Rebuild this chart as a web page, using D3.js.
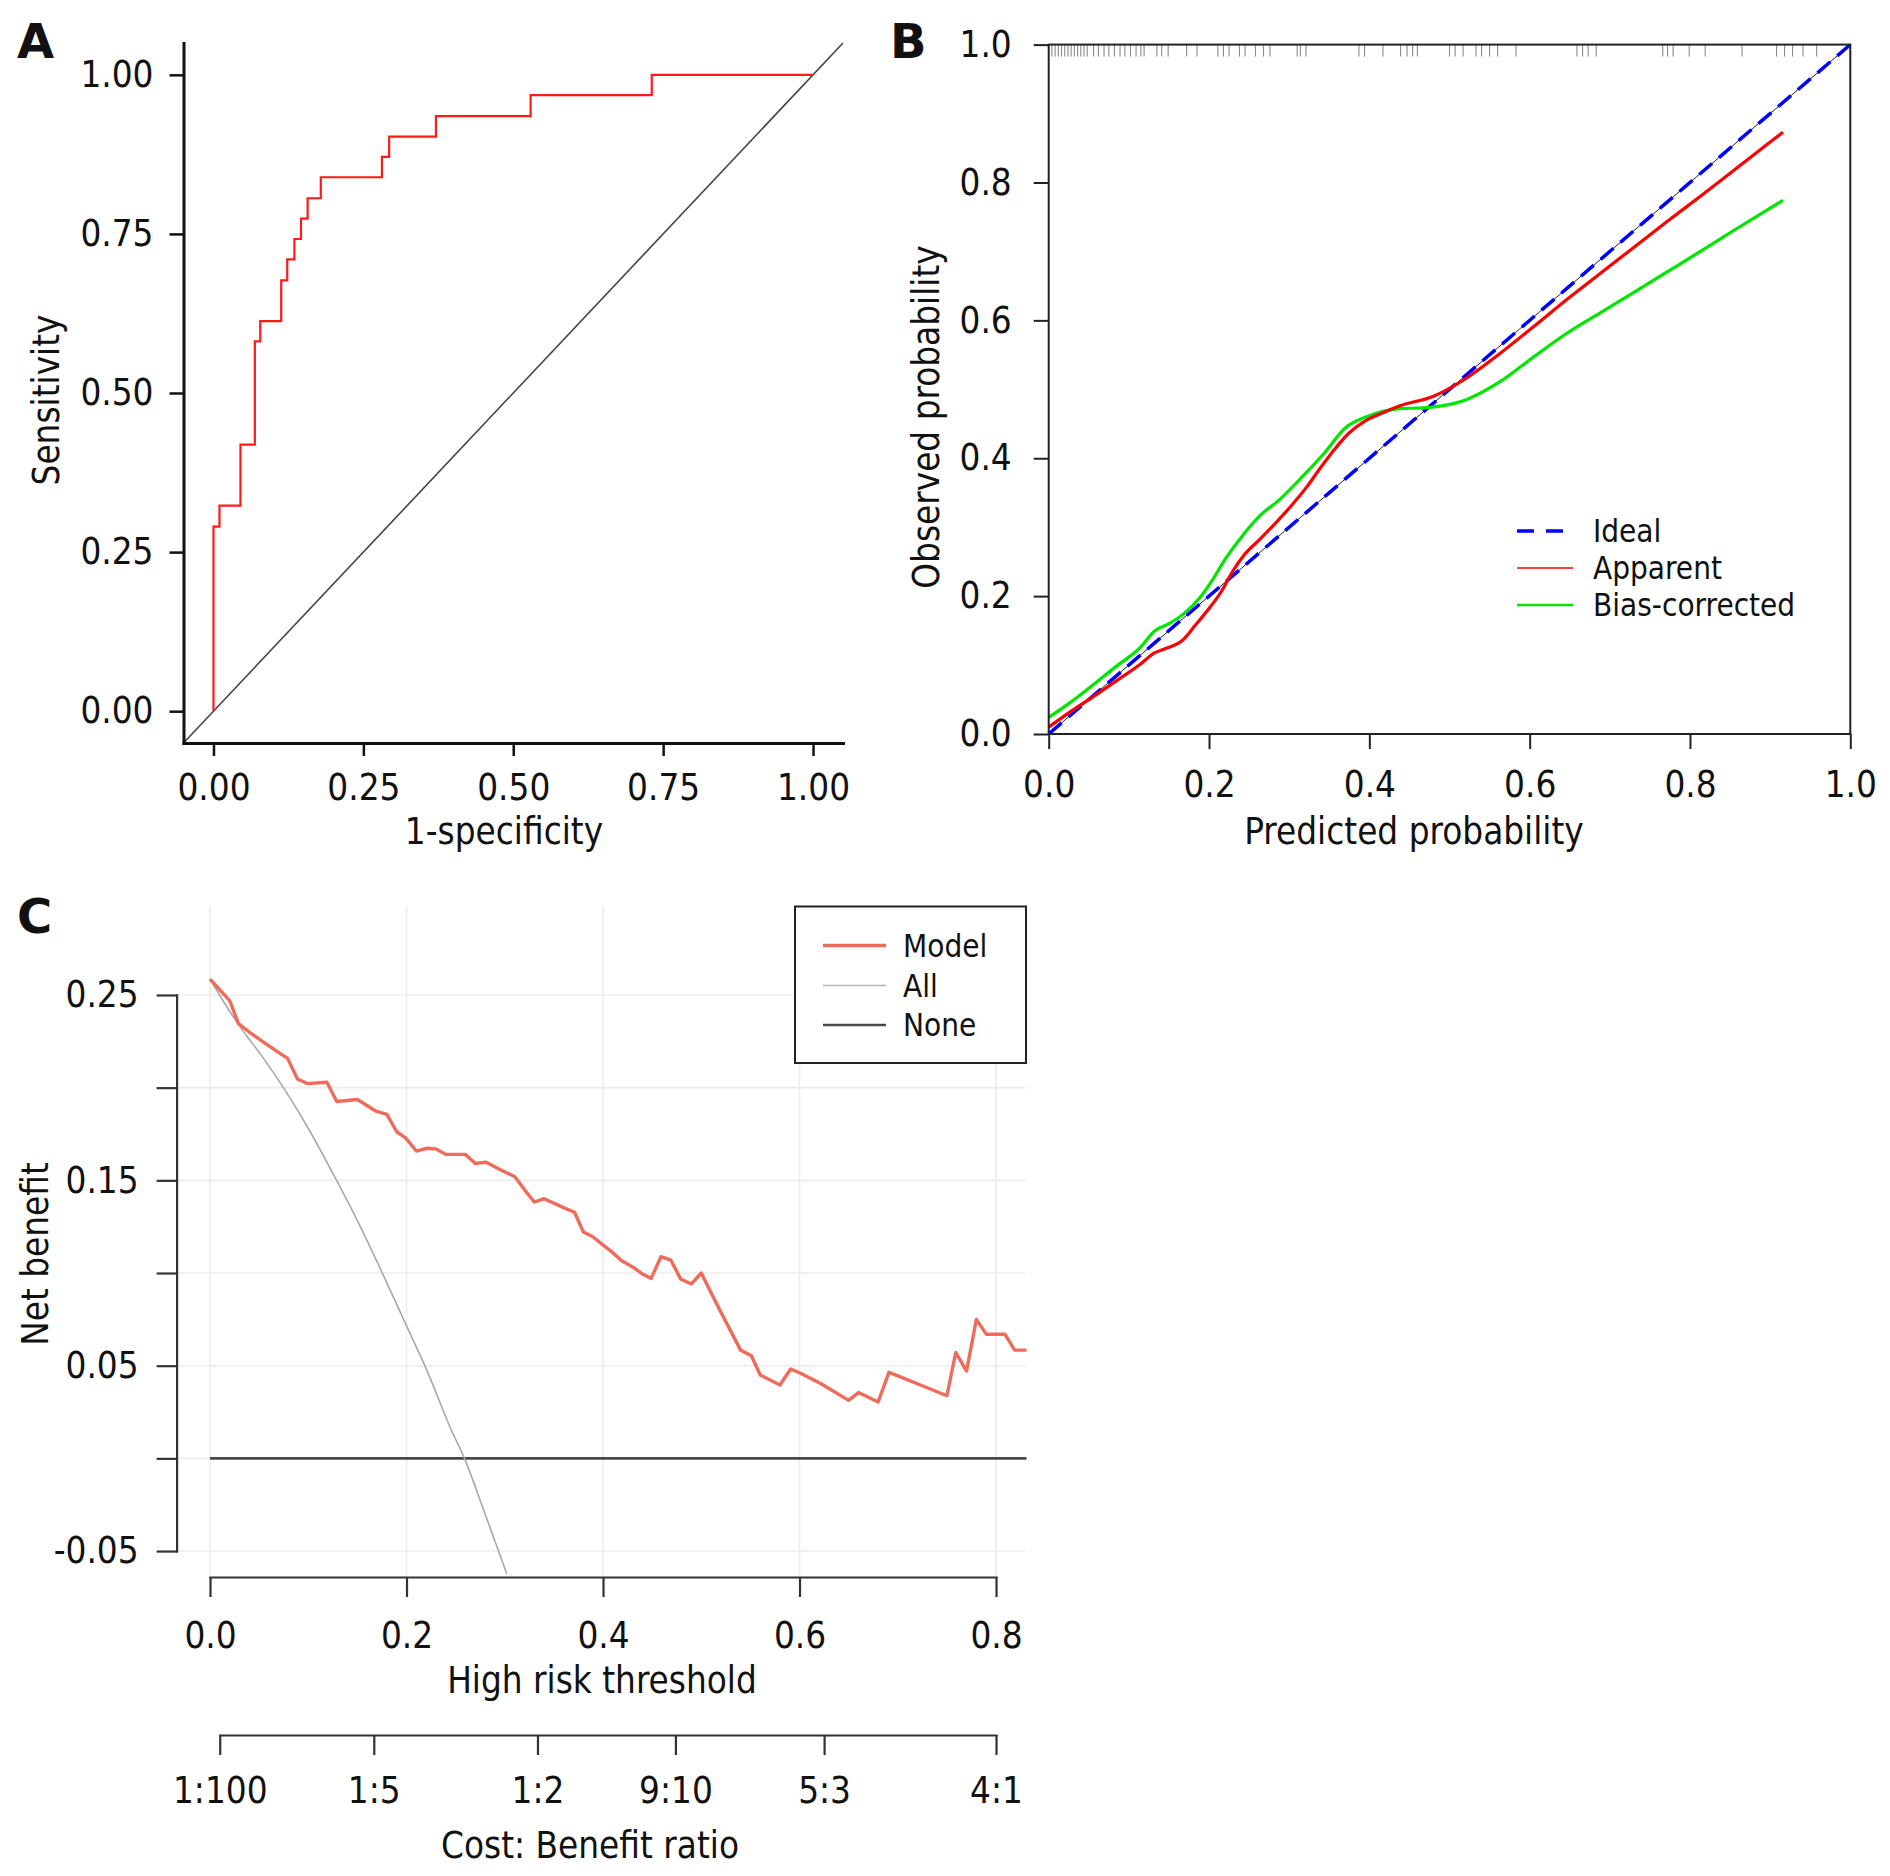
<!DOCTYPE html>
<html><head><meta charset="utf-8">
<script src="https://cdn.jsdelivr.net/npm/d3@7"></script>
<style>
body{margin:0;background:#fff;}
svg text{font-family:"DejaVu Sans Condensed","DejaVu Sans",sans-serif;font-stretch:condensed;fill:#111;}
</style></head>
<body>
<svg id="fig" width="1890" height="1876"></svg>
<script>
// ---------------- DATA ----------------
// Panel A: ROC curve corners (1-specificity, sensitivity)
const rocFpr = [0, 0, 0.010, 0.045, 0.069, 0.078, 0.113, 0.123, 0.135, 0.146, 0.157, 0.179, 0.281, 0.293, 0.371, 0.529, 0.731, 1.0];
const rocTpr = [0, 0.290, 0.323, 0.419, 0.581, 0.613, 0.677, 0.710, 0.742, 0.774, 0.806, 0.839, 0.871, 0.903, 0.935, 0.968, 1.0, 1.0];
const rocTicks = [0, 0.25, 0.5, 0.75, 1.0];

// Panel B: calibration curves
const apparentX = [0, 0.029, 0.058, 0.088, 0.113, 0.131, 0.146, 0.167, 0.183, 0.200, 0.215, 0.229, 0.244, 0.263, 0.283, 0.304, 0.321, 0.342, 0.358, 0.375, 0.396, 0.417, 0.438, 0.480, 0.521, 0.563, 0.605, 0.646, 0.688, 0.729, 0.771, 0.813, 0.854, 0.896, 0.916];
const apparentY = [0.010, 0.034, 0.056, 0.080, 0.100, 0.117, 0.124, 0.136, 0.158, 0.182, 0.206, 0.235, 0.260, 0.282, 0.306, 0.333, 0.357, 0.391, 0.415, 0.437, 0.455, 0.466, 0.476, 0.490, 0.516, 0.552, 0.591, 0.630, 0.668, 0.705, 0.743, 0.780, 0.817, 0.855, 0.873];
const biasX = [0, 0.025, 0.054, 0.083, 0.113, 0.133, 0.150, 0.169, 0.188, 0.204, 0.221, 0.244, 0.263, 0.288, 0.317, 0.342, 0.371, 0.396, 0.417, 0.438, 0.467, 0.490, 0.521, 0.563, 0.605, 0.646, 0.688, 0.729, 0.771, 0.813, 0.854, 0.896, 0.916];
const biasY = [0.024, 0.044, 0.070, 0.097, 0.124, 0.150, 0.160, 0.175, 0.197, 0.223, 0.255, 0.291, 0.316, 0.340, 0.374, 0.405, 0.445, 0.460, 0.468, 0.472, 0.473, 0.476, 0.485, 0.511, 0.547, 0.581, 0.611, 0.640, 0.670, 0.700, 0.730, 0.760, 0.774];
const rugPred = [0.004,0.008,0.012,0.016,0.020,0.024,0.028,0.032,0.036,0.040,0.044,0.048,0.056,0.062,0.069,0.075,0.082,0.089,0.095,0.102,0.109,0.115,0.119,0.135,0.141,0.149,0.172,0.185,0.211,0.218,0.225,0.238,0.245,0.258,0.268,0.276,0.310,0.314,0.321,0.387,0.394,0.417,0.439,0.447,0.454,0.460,0.500,0.507,0.517,0.533,0.540,0.550,0.560,0.583,0.659,0.666,0.673,0.683,0.766,0.772,0.779,0.799,0.819,0.865,0.908,0.918,0.928,0.941,0.958];
const calTicks = [0, 0.2, 0.4, 0.6, 0.8, 1.0];
const calLegend = ["Ideal", "Apparent", "Bias-corrected"];

// Panel C: decision curve
const modelX = [0, 0.020, 0.029, 0.041, 0.054, 0.070, 0.079, 0.089, 0.099, 0.119, 0.129, 0.150, 0.169, 0.180, 0.190, 0.199, 0.210, 0.221, 0.230, 0.240, 0.260, 0.270, 0.281, 0.298, 0.310, 0.320, 0.330, 0.340, 0.361, 0.371, 0.380, 0.390, 0.397, 0.409, 0.419, 0.431, 0.440, 0.449, 0.459, 0.469, 0.479, 0.490, 0.500, 0.513, 0.526, 0.540, 0.551, 0.560, 0.580, 0.591, 0.601, 0.621, 0.650, 0.660, 0.680, 0.691, 0.702, 0.723, 0.750, 0.759, 0.770, 0.780, 0.790, 0.809, 0.819, 0.831];
const modelY = [0.2585, 0.247, 0.2345, 0.2296, 0.2247, 0.2189, 0.2158, 0.2047, 0.2022, 0.2029, 0.1925, 0.1936, 0.1873, 0.1856, 0.1762, 0.1729, 0.1658, 0.1673, 0.1669, 0.164, 0.164, 0.1591, 0.1598, 0.155, 0.1521, 0.145, 0.1383, 0.1401, 0.135, 0.1328, 0.1221, 0.1194, 0.1164, 0.1114, 0.1066, 0.103, 0.0995, 0.0971, 0.1088, 0.107, 0.0968, 0.0941, 0.100, 0.0861, 0.0727, 0.0584, 0.0554, 0.045, 0.0396, 0.0482, 0.0459, 0.0405, 0.0313, 0.0355, 0.0304, 0.0464, 0.0441, 0.0396, 0.0338, 0.0571, 0.0471, 0.075, 0.067, 0.067, 0.0584, 0.0584];
const allX = [0, 0.029, 0.054, 0.078, 0.102, 0.126, 0.150, 0.174, 0.197, 0.221, 0.245, 0.259, 0.279, 0.302];
const allY = [0.2585, 0.234, 0.2162, 0.1973, 0.1762, 0.1528, 0.1283, 0.1016, 0.075, 0.0472, 0.016, 0.0, -0.0285, -0.0623];
const noneX = [0, 0.831];
const noneY = [0, 0];
const dcaXTicks = [0, 0.2, 0.4, 0.6, 0.8];
const dcaYTicks = [-0.05, 0, 0.05, 0.10, 0.15, 0.20, 0.25];
const dcaYLabels = ["-0.05", "", "0.05", "", "0.15", "", "0.25"];
const cbLabels = ["1:100", "1:5", "1:2", "9:10", "5:3", "4:1"];
const cbThreshold = [0.0099, 0.1667, 0.3333, 0.4737, 0.625, 0.8];
const dcaLegend = ["Model", "All", "None"];

// ---------------- DRAW ----------------
const svg = d3.select("#fig");
const FS = 36.5, LFS = 31.2;
const ink = "#111";

function fixAxis(g, fs, w, tw, color) {
  g.attr("font-family", null).attr("font-size", fs);
  g.selectAll("text").attr("fill", ink);
  g.select(".domain").attr("stroke", color).attr("stroke-width", w).attr("stroke-linecap", "square");
  g.selectAll(".tick line").attr("stroke", color).attr("stroke-width", tw);
}
function label(x, y, txt, fs, rot) {
  const t = svg.append("text").attr("x", x).attr("y", y).attr("text-anchor", "middle")
    .attr("dominant-baseline", "central").attr("font-size", fs).text(txt);
  if (rot) t.attr("transform", `rotate(${rot},${x},${y})`);
  return t;
}
function panelLetter(x, y, txt) {
  svg.append("text").attr("x", x).attr("y", y).attr("font-size", 48).attr("font-weight", "bold")
    .style("font-stretch", "normal").style("font-family", "'DejaVu Sans',sans-serif").text(txt);
}

// ===== Panel A =====
const xA = d3.scaleLinear().domain([-0.05, 1.05]).range([183.5, 843]);
const yA = d3.scaleLinear().domain([-0.05, 1.05]).range([743, 43]);
const dA = xA.domain();
svg.append("line").attr("x1", xA(dA[0])).attr("y1", yA(dA[0])).attr("x2", xA(dA[1])).attr("y2", yA(dA[1]))
  .attr("stroke", "#444").attr("stroke-width", 1.6);
svg.append("path").datum(d3.zip(rocFpr, rocTpr))
  .attr("d", d3.line().x(d => xA(d[0])).y(d => yA(d[1])).curve(d3.curveStepAfter))
  .attr("fill", "none").attr("stroke", "#ff1a1a").attr("stroke-width", 2.2);
const axA_y = svg.append("g").attr("transform", `translate(${xA.range()[0]},0)`)
  .call(d3.axisLeft(yA).tickValues(rocTicks).tickFormat(d3.format(".2f")).tickSize(14).tickSizeOuter(0).tickPadding(16));
fixAxis(axA_y, FS, 3, 2.5, "#111");
const axA_x = svg.append("g").attr("transform", `translate(0,${yA.range()[0]})`)
  .call(d3.axisBottom(xA).tickValues(rocTicks).tickFormat(d3.format(".2f")).tickSize(13).tickSizeOuter(0).tickPadding(18));
fixAxis(axA_x, FS, 3, 2.5, "#111");
label(46, 400, "Sensitivity", FS, -90);
label(504, 831, "1-specificity", FS);
panelLetter(17, 58, "A");

// ===== Panel B =====
const xB = d3.scaleLinear().domain([0, 1]).range([1048.7, 1850.3]);
const yB = d3.scaleLinear().domain([0, 1]).range([734, 44.6]);
svg.append("g").selectAll("line").data(rugPred).join("line")
  .attr("x1", d => xB(d)).attr("x2", d => xB(d)).attr("y1", yB(1)).attr("y2", yB(1) + 12)
  .attr("stroke", "#8a8a8a").attr("stroke-width", 1.1);
svg.append("line").attr("x1", xB(0)).attr("y1", yB(0)).attr("x2", xB(1)).attr("y2", yB(1))
  .attr("stroke", "#222").attr("stroke-width", 1);
svg.append("line").attr("x1", xB(0)).attr("y1", yB(0)).attr("x2", xB(1)).attr("y2", yB(1))
  .attr("stroke", "#0000ff").attr("stroke-width", 3.5).attr("stroke-dasharray", "17,9");
const lineB = d3.line().x(d => xB(d[0])).y(d => yB(d[1])).curve(d3.curveMonotoneX);
svg.append("path").datum(d3.zip(biasX, biasY)).attr("d", lineB)
  .attr("fill", "none").attr("stroke", "#00e600").attr("stroke-width", 3.2);
svg.append("path").datum(d3.zip(apparentX, apparentY)).attr("d", lineB)
  .attr("fill", "none").attr("stroke", "#ff0000").attr("stroke-width", 3.2);
svg.append("rect").attr("x", xB(0)).attr("y", yB(1)).attr("width", xB(1) - xB(0)).attr("height", yB(0) - yB(1))
  .attr("fill", "none").attr("stroke", "#222").attr("stroke-width", 2);
const axB_y = svg.append("g").attr("transform", `translate(${xB(0)},0)`)
  .call(d3.axisLeft(yB).tickValues(calTicks).tickFormat(d3.format(".1f")).tickSize(15).tickSizeOuter(0).tickPadding(22));
fixAxis(axB_y, FS, 0, 2, "#222");
const axB_x = svg.append("g").attr("transform", `translate(0,${yB(0)})`)
  .call(d3.axisBottom(xB).tickValues(calTicks).tickFormat(d3.format(".1f")).tickSize(15).tickSizeOuter(0).tickPadding(22));
fixAxis(axB_x, FS, 0, 2, "#222");
label(926, 417, "Observed probability", FS, -90);
label(1414, 831, "Predicted probability", FS);
panelLetter(890, 58, "B");
const legBy = [531, 568, 605];
const legB = svg.append("g");
legB.append("line").attr("x1", 1517).attr("x2", 1570).attr("y1", legBy[0]).attr("y2", legBy[0])
  .attr("stroke", "#0000ff").attr("stroke-width", 3.5).attr("stroke-dasharray", "17,12");
legB.append("line").attr("x1", 1517).attr("x2", 1573).attr("y1", legBy[1]).attr("y2", legBy[1])
  .attr("stroke", "#ff0000").attr("stroke-width", 1.6);
legB.append("line").attr("x1", 1517).attr("x2", 1573).attr("y1", legBy[2]).attr("y2", legBy[2])
  .attr("stroke", "#00e600").attr("stroke-width", 2.6);
legB.selectAll("text").data(calLegend).join("text")
  .attr("x", 1593).attr("y", (d, i) => legBy[i]).attr("dominant-baseline", "central")
  .attr("font-size", LFS).text(d => d);

// ===== Panel C =====
const xC = d3.scaleLinear().domain([-0.034, 0.83]).range([176.6, 1025.5]);
const yC = d3.scaleLinear().domain([-0.064, 0.298]).range([1577, 906]);
const [px0, px1] = xC.range(), [py1, py0] = yC.range();
const grid = svg.append("g");
grid.selectAll(".hg").data(dcaYTicks).join("line")
  .attr("x1", px0).attr("x2", px1).attr("y1", d => yC(d)).attr("y2", d => yC(d))
  .attr("stroke", "#ececec").attr("stroke-width", 1.6);
grid.selectAll(".vg").data(dcaXTicks).join("line")
  .attr("x1", d => xC(d)).attr("x2", d => xC(d)).attr("y1", py0).attr("y2", py1)
  .attr("stroke", "#ececec").attr("stroke-width", 1.6);
const lineC = d3.line().x(d => xC(d[0])).y(d => yC(d[1]));
svg.append("path").datum(d3.zip(noneX, noneY)).attr("d", lineC)
  .attr("fill", "none").attr("stroke", "#484848").attr("stroke-width", 2.6);
svg.append("path").datum(d3.zip(allX, allY)).attr("d", d3.line().x(d => xC(d[0])).y(d => yC(d[1])).curve(d3.curveMonotoneX))
  .attr("fill", "none").attr("stroke", "#a8a8a8").attr("stroke-width", 1.6);
svg.append("path").datum(d3.zip(modelX, modelY)).attr("d", lineC)
  .attr("fill", "none").attr("stroke", "#ee6c5c").attr("stroke-width", 3.4).attr("stroke-linejoin", "round");
const yCap = d3.scaleLinear().domain([-0.05, 0.25]).range([yC(-0.05), yC(0.25)]);
const axC_y = svg.append("g").attr("transform", `translate(${px0},0)`)
  .call(d3.axisLeft(yCap).tickValues(dcaYTicks).tickFormat((d, i) => dcaYLabels[i]).tickSize(20).tickSizeOuter(0).tickPadding(18));
fixAxis(axC_y, FS, 2.2, 2.2, "#333");
const xCap = d3.scaleLinear().domain([0, 0.8]).range([xC(0), xC(0.8)]);
const axC_x = svg.append("g").attr("transform", `translate(0,${py1})`)
  .call(d3.axisBottom(xCap).tickValues(dcaXTicks).tickFormat(d3.format(".1f")).tickSize(20).tickSizeOuter(0).tickPadding(25));
fixAxis(axC_x, FS, 2.2, 2.2, "#333");
const cbScale = d3.scaleLinear().domain([cbThreshold[0], cbThreshold[cbThreshold.length - 1]])
  .range([xC(cbThreshold[0]), xC(cbThreshold[cbThreshold.length - 1])]);
const axC_cb = svg.append("g").attr("transform", `translate(0,1735)`)
  .call(d3.axisBottom(cbScale).tickValues(cbThreshold).tickFormat((d, i) => cbLabels[i]).tickSize(20).tickSizeOuter(0).tickPadding(22));
fixAxis(axC_cb, FS, 2.2, 2.2, "#333");
label(35, 1254, "Net benefit", FS, -90);
label(602, 1680, "High risk threshold", FS);
label(590, 1845, "Cost: Benefit ratio", FS);
panelLetter(17, 933, "C");
const legC = svg.append("g");
legC.append("rect").attr("x", 795).attr("y", 906.5).attr("width", 231).attr("height", 156.5)
  .attr("fill", "#fff").attr("stroke", "#222").attr("stroke-width", 2);
const legCy = [945.5, 985.5, 1025];
const legCstyle = [["#ee6c5c", 3.6], ["#b5b5b5", 1.6], ["#484848", 2.6]];
legC.selectAll("line").data(dcaLegend).join("line")
  .attr("x1", 823).attr("x2", 886).attr("y1", (d, i) => legCy[i]).attr("y2", (d, i) => legCy[i])
  .attr("stroke", (d, i) => legCstyle[i][0]).attr("stroke-width", (d, i) => legCstyle[i][1]);
legC.selectAll("text").data(dcaLegend).join("text")
  .attr("x", 903).attr("y", (d, i) => legCy[i]).attr("dominant-baseline", "central")
  .attr("font-size", LFS).text(d => d);
</script>
</body></html>
